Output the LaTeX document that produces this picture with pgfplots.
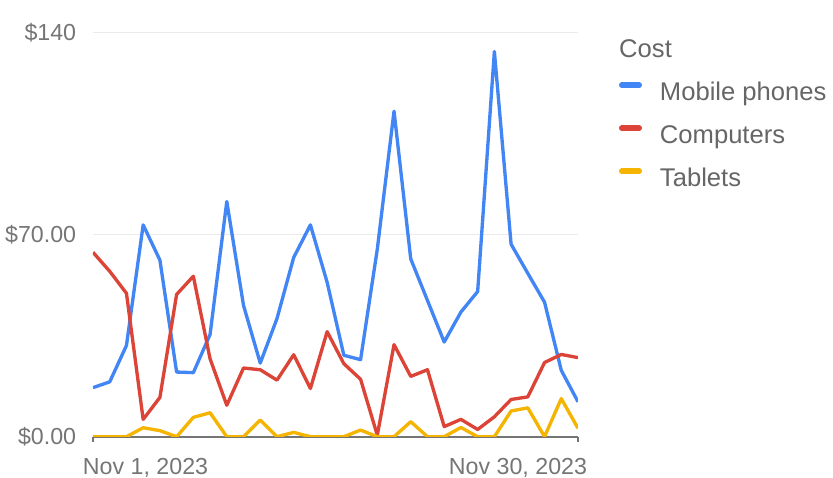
\documentclass[border=0pt]{standalone}
\usepackage{pgfplots}
\pgfplotsset{compat=1.18}
\usepackage{fontspec}
\setmainfont{Liberation Sans}
\definecolor{cblue}{HTML}{4285F4}
\definecolor{cred}{HTML}{DB4437}
\definecolor{cyellow}{HTML}{F4B400}
\definecolor{tickgray}{HTML}{757575}
\definecolor{leggray}{HTML}{666666}
\definecolor{gridgray}{HTML}{EBEBEB}
\newcommand{\tickfont}{\fontsize{17.4pt}{20pt}\selectfont}
\newcommand{\legfont}{\fontsize{19.2pt}{22pt}\selectfont}
\begin{document}
\begin{tikzpicture}
\useasboundingbox (0,0) rectangle (624.75pt,358.5pt);
\begin{axis}[
  at={(69.75pt,30.975pt)}, anchor=south west,
  scale only axis, width=363.75pt, height=303pt,
  xmin=0, xmax=29, ymin=0, ymax=140,
  clip mode=individual,
  axis x line*=bottom, axis y line*=left,
  x axis line style={draw=tickgray, line width=1.3pt, -},
  y axis line style={draw=none},
  xtick={0,29},
  xticklabels={\makebox[0pt][l]{\hspace{-7.5pt}Nov 1, 2023},\makebox[0pt][r]{Nov 30, 2023\hspace{-6.75pt}}},
  xticklabel style={anchor=base, inner sep=0pt, font=\tickfont, text=tickgray, yshift=-24.75pt},
  tick align=outside, major tick length=3.75pt,
  xtick style={draw=tickgray, line width=1pt},
  typeset ticklabels with strut=false,
  ytick={0,70,140},
  yticklabels={\$0.00,\$70.00,\$140},
  ymajorgrids, grid style={draw=gridgray, line width=0.9pt},
  ytick style={draw=none},
  yticklabel style={anchor=base east, inner sep=0pt, font=\tickfont, text=tickgray, yshift=-6.2pt, xshift=-8.7pt},
  legend style={at={(axis description cs:1.0845,0.8787)}, anchor=north west,
    draw=none, fill=none, inner sep=0pt, outer sep=0pt,
    row sep=13.5pt, column sep=13.5pt, font=\legfont, text=leggray,
    nodes={inner sep=0pt, text height=14.25pt, text depth=4.5pt}},
  legend cell align=left,
  legend image code/.code={\draw[#1, line width=4.1pt, line cap=round] (2.05pt,6.75pt) -- (15.2pt,6.75pt);},
  every axis plot/.append style={line width=2.5pt, line join=round, mark=none},
]
\addplot[cblue] coordinates {
(0,17.0) (1,19.0) (2,31.6) (3,73.4) (4,61.2) (5,22.4) (6,22.2) (7,35.4) (8,81.5) (9,45.5)
(10,25.5) (11,40.9) (12,62.1) (13,73.4) (14,53.5) (15,28.2) (16,26.7) (17,65.0) (18,112.8) (19,61.6)
(20,47.2) (21,32.8) (22,43.2) (23,50.3) (24,133.5) (25,66.7) (26,56.6) (27,46.6) (28,23.0) (29,12.1)};
\addlegendentry{Mobile phones}
\addplot[cred] coordinates {
(0,63.9) (1,57.3) (2,49.7) (3,6.0) (4,13.6) (5,49.3) (6,55.6) (7,27.0) (8,10.9) (9,23.8)
(10,23.2) (11,19.6) (12,28.4) (13,16.7) (14,36.4) (15,25.3) (16,19.9) (17,0.5) (18,31.9) (19,20.9)
(20,23.2) (21,3.5) (22,6.0) (23,2.5) (24,6.9) (25,12.9) (26,13.8) (27,25.7) (28,28.5) (29,27.4)};
\addlegendentry{Computers}
\addplot[cyellow] coordinates {
(0,0) (1,0) (2,0) (3,3.1) (4,2.1) (5,0) (6,6.7) (7,8.3) (8,0) (9,0)
(10,5.8) (11,0) (12,1.5) (13,0) (14,0) (15,0) (16,2.3) (17,0) (18,0) (19,5.2)
(20,0) (21,0) (22,3.2) (23,0) (24,0) (25,8.9) (26,10.0) (27,0) (28,13.2) (29,2.9)};
\addlegendentry{Tablets}
\node[anchor=base west, inner sep=0pt, font=\legfont, text=leggray] at (axis description cs:1.0845,0.9398) {Cost};
\end{axis}
\end{tikzpicture}
\end{document}
